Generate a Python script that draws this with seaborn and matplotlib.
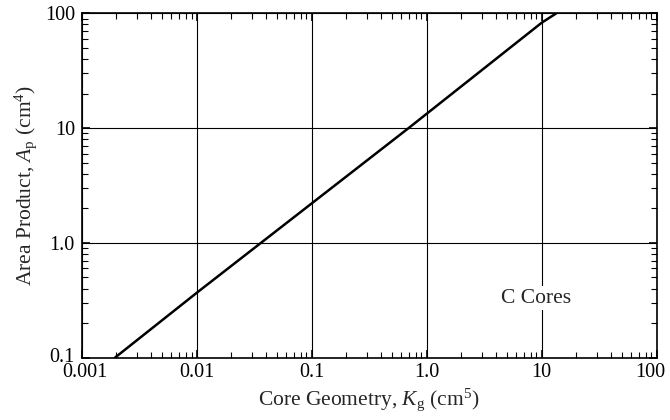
import matplotlib
matplotlib.use("Agg")
import pandas as pd
import seaborn as sns
from matplotlib import pyplot as plt
from matplotlib.transforms import ScaledTranslation
from matplotlib.ticker import FixedLocator, FixedFormatter, LogLocator, NullFormatter

# values
kg = [0.00194, 0.01, 0.0361, 0.695, 10.0, 13.4]
ap = [0.1, 0.368, 1.0, 10.0, 82.8, 100.0]

x_ticks = [0.001, 0.01, 0.1, 1.0, 10, 100]
x_labels = ["0.001", "0.01", "0.1", "1.0", "10", "100"]
y_ticks = [0.1, 1.0, 10, 100]
y_labels = ["0.1", "1.0", "10", "100"]

sns.set_style("ticks")
plt.rcParams["font.family"] = ["Liberation Serif", "DejaVu Serif"]
plt.rcParams["mathtext.fontset"] = "custom"
plt.rcParams["mathtext.rm"] = "Liberation Serif"
plt.rcParams["mathtext.it"] = "Liberation Serif:italic"

fs = 15.5

df = pd.DataFrame({"Kg": kg, "Ap": ap})

fig = plt.figure(figsize=(6.7, 4.2), dpi=100)
ax = fig.add_axes([0.1221, 0.1483, 0.858, 0.82])

sns.lineplot(data=df, x="Kg", y="Ap", ax=ax, color="black", linewidth=1.8)

ax.set_xscale("log")
ax.set_yscale("log")
ax.set_xlim(0.001, 100)
ax.set_ylim(0.1, 100)

ax.xaxis.set_major_locator(FixedLocator(x_ticks))
ax.xaxis.set_major_formatter(FixedFormatter(x_labels))
ax.yaxis.set_major_locator(FixedLocator(y_ticks))
ax.yaxis.set_major_formatter(FixedFormatter(y_labels))
ax.xaxis.set_minor_locator(LogLocator(base=10, subs=range(2, 10), numticks=20))
ax.yaxis.set_minor_locator(LogLocator(base=10, subs=range(2, 10), numticks=20))
ax.xaxis.set_minor_formatter(NullFormatter())
ax.yaxis.set_minor_formatter(NullFormatter())

ax.tick_params(which="both", direction="in", top=True, right=True, colors="black")
ax.tick_params(which="major", length=6, width=1.2, labelsize=14.5)
ax.tick_params(axis="x", which="major", pad=4)
ax.tick_params(axis="y", which="major", pad=5)
ax.tick_params(which="minor", length=4, width=0.8)

ax.grid(True, which="major", color="black", linewidth=0.8)
for s in ax.spines.values():
    s.set_linewidth(1.2)
    s.set_color("black")

ax.set_xlabel(r"Core Geometry, $K_\mathrm{g}$ (cm$^5$)", fontsize=fs, labelpad=3)
ax.set_ylabel(r"Area Product, $A_\mathrm{p}$ (cm$^4$)", fontsize=fs, labelpad=4)

ax.text(8.9, 0.33, "C Cores", fontsize=fs, ha="center", va="center",
        bbox=dict(facecolor="white", edgecolor="none", pad=2))

# nudge the corner labels so they stay inside the picture and apart
fig.canvas.draw()
xl = ax.get_xticklabels()
yl = ax.get_yticklabels()
xl[-1].set_transform(xl[-1].get_transform() + ScaledTranslation(-6 / 100, 0, fig.dpi_scale_trans))
xl[0].set_transform(xl[0].get_transform() + ScaledTranslation(3 / 100, 0, fig.dpi_scale_trans))
yl[0].set_transform(yl[0].get_transform() + ScaledTranslation(0, 3 / 100, fig.dpi_scale_trans))

fig.savefig("out.png", dpi=100)
